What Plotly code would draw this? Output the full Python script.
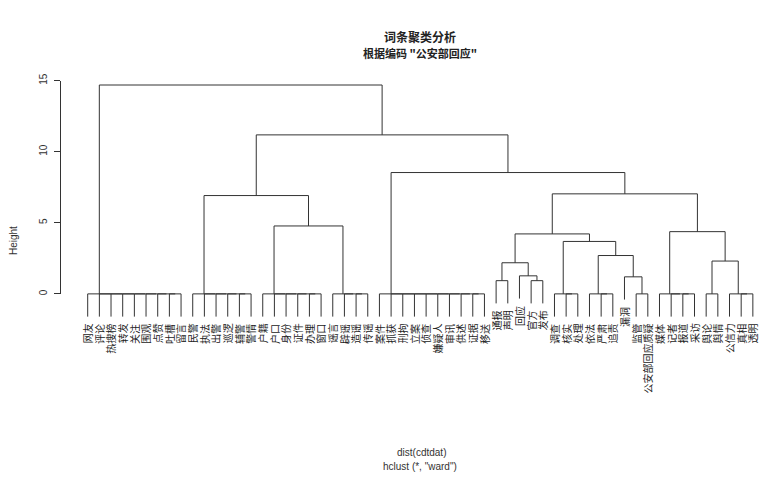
import plotly.graph_objects as go

# ---- data -------------------------------------------------------------
# terms in dendrogram order (left to right)
leaf_labels = [
    "网友", "评论", "热搜榜", "转发", "关注", "围观", "点赞", "吐槽", "留言",
    "民警", "执法", "出警", "巡逻", "辅警", "警情",
    "户籍", "户口", "身份", "证件", "办理", "窗口",
    "谣言", "辟谣", "造谣", "传谣",
    "案件", "抓获", "刑拘", "立案", "侦查", "嫌疑人", "审讯", "供述", "证据", "移送",
    "通报", "声明", "回应", "官方", "发布",
    "调查", "核实", "处理",
    "依法", "严肃", "追责",
    "漏洞",
    "监管", "公安部回应质疑",
    "媒体", "记者", "报道", "采访",
    "舆论", "舆情",
    "公信力", "真相", "透明",
]

# consecutive runs of identical terms (joined at height 0)
group_sizes = [9, 6, 6, 4, 10, 1, 1, 1, 1, 1, 3, 3, 1, 2, 4, 2, 3]

# upper merges: "g<i>" = group i, "m<i>" = earlier merge i
merge_left = ["g5", "g8", "g7", "m0", "g12", "g11", "g10", "m3",
              "g15", "g14", "m7", "g4", "g2", "g1", "m13", "g0"]
merge_right = ["g6", "g9", "m1", "m2", "g13", "m4", "m5", "m6",
               "g16", "m8", "m9", "m10", "g3", "m12", "m11", "m14"]
merge_height = [0.93, 0.93, 1.27, 2.19, 1.20, 2.70, 3.69, 4.22,
                2.31, 4.38, 7.04, 8.54, 4.78, 6.92, 11.19, 14.70]

height_ticks = [0, 5, 10, 15]

# ---- layout of the tree -----------------------------------------------
HANG = 1.6
LINE = "#333333"

seg_x, seg_y = [], []
leaf_end = {}


def bracket(left, right, h):
    """Draw one merge; left/right are dicts with x, h, leaf index or None."""
    yl = h - HANG if left["leaf"] is not None else left["h"]
    yr = h - HANG if right["leaf"] is not None else right["h"]
    if left["leaf"] is not None:
        leaf_end[left["leaf"]] = yl
    if right["leaf"] is not None:
        leaf_end[right["leaf"]] = yr
    seg_x.extend([left["x"], left["x"], right["x"], right["x"], None])
    seg_y.extend([yl, h, h, yr, None])
    return {"x": (left["x"] + right["x"]) / 2.0, "h": h, "leaf": None}


groups = []
start = 0
for size in group_sizes:
    idx = list(range(start, start + size))
    start += size
    node = {"x": idx[-1] + 1, "h": 0.0, "leaf": idx[-1]}
    for i in reversed(idx[:-1]):
        node = bracket({"x": i + 1, "h": 0.0, "leaf": i}, node, 0.0)
    groups.append(node)

merges = []


def lookup(key):
    return groups[int(key[1:])] if key[0] == "g" else merges[int(key[1:])]


for l, r, h in zip(merge_left, merge_right, merge_height):
    merges.append(bracket(lookup(l), lookup(r), h))

fig = go.Figure()
fig.add_trace(go.Scatter(
    x=seg_x, y=seg_y, mode="lines",
    line=dict(color=LINE, width=1), hoverinfo="skip", showlegend=False,
))
# carrier trace for the Height axis
fig.add_trace(go.Scatter(x=[None], y=[None], yaxis="y2", showlegend=False))

W, H = 763, 485
X_RANGE = [-6.515, 58.87]
Y_RANGE = [-13.38, 20.19]

annotations = []
for i, lab in enumerate(leaf_labels):
    annotations.append(dict(
        x=i + 1, y=leaf_end[i], xref="x", yref="y",
        text=lab, textangle=-90, showarrow=False,
        xanchor="center", yanchor="top", yshift=-5,
        font=dict(family="Noto Sans CJK SC", size=10, color="#222222"),
    ))

annotations += [
    dict(text="<b>词条聚类分析</b>", x=420 / W, y=1 - 29.5 / H,
         xref="paper", yref="paper", showarrow=False,
         xanchor="center", yanchor="middle",
         font=dict(family="Noto Sans CJK SC", size=12, color="#222222")),
    dict(text="<b>根据编码 \"公安部回应\"</b>", x=420 / W, y=1 - 47 / H,
         xref="paper", yref="paper", showarrow=False,
         xanchor="center", yanchor="middle",
         font=dict(family="Noto Sans CJK SC", size=11, color="#222222")),
    dict(text="dist(cdtdat)", x=421 / W, y=1 - 453 / H,
         xref="paper", yref="paper", showarrow=False,
         xanchor="center", yanchor="middle",
         font=dict(family="Liberation Sans", size=10, color="#333333")),
    dict(text='hclust (*, "ward")', x=420 / W, y=1 - 467 / H,
         xref="paper", yref="paper", showarrow=False,
         xanchor="center", yanchor="middle",
         font=dict(family="Liberation Sans", size=10, color="#333333")),
    dict(text="Height", x=13 / W, y=1 - 238 / H, textangle=-90,
         xref="paper", yref="paper", showarrow=False,
         xanchor="center", yanchor="middle",
         font=dict(family="Liberation Sans", size=10, color="#333333")),
]

fig.update_layout(
    width=W, height=H,
    margin=dict(l=0, r=0, t=0, b=0),
    paper_bgcolor="white", plot_bgcolor="rgba(0,0,0,0)",
    xaxis=dict(range=X_RANGE, visible=False, domain=[0, 1]),
    yaxis=dict(range=Y_RANGE, visible=False, domain=[0, 1]),
    yaxis2=dict(
        range=[0, 15], domain=[(H - 291.7) / H, (H - 75) / H],
        anchor="free", position=60 / W,
        tickvals=height_ticks, ticktext=[str(v) for v in height_ticks],
        ticks="outside", ticklen=6, tickcolor=LINE, tickwidth=1,
        showline=True, linecolor=LINE, linewidth=1,
        showgrid=False, zeroline=False, tickangle=-90,
        ticklabelstandoff=3,
        tickfont=dict(family="Liberation Sans", size=10, color="#333333"),
    ),
    annotations=annotations,
    showlegend=False,
)

fig.write_html("out.html")
